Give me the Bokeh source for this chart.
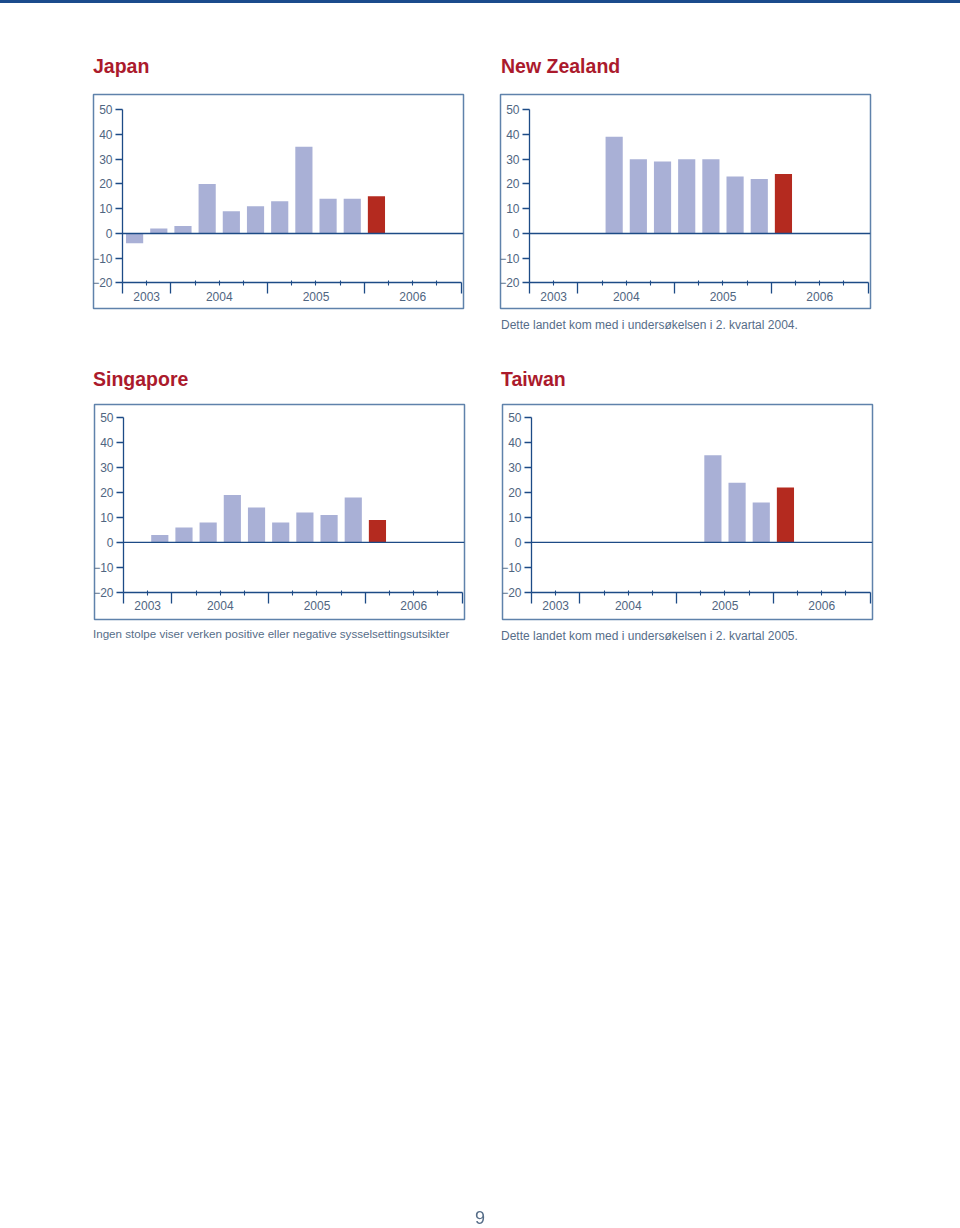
from bokeh.plotting import figure
from bokeh.models import LinearAxis, FixedTicker, Div, Spacer, Range1d, ColumnDataSource
from bokeh.layouts import row, column
from bokeh.embed import file_html
from bokeh.resources import INLINE

# ---------------- data ----------------
QUARTERS = ["2003 K3", "2003 K4",
            "2004 K1", "2004 K2", "2004 K3", "2004 K4",
            "2005 K1", "2005 K2", "2005 K3", "2005 K4",
            "2006 K1", "2006 K2", "2006 K3", "2006 K4"]
YEARS = ["2003", "2004", "2005", "2006"]
YEAR_QUARTERS = [2, 4, 4, 4]
Y_TICKS = [-20, -10, 0, 10, 20, 30, 40, 50]

JAPAN_FIRST = "2003 K3"
JAPAN = [-4, 2, 3, 20, 9, 11, 13, 35, 14, 14, 15]
NZ_FIRST = "2004 K2"
NZ = [39, 30, 29, 30, 30, 23, 22, 24]
SINGAPORE_FIRST = "2003 K4"
SINGAPORE = [3, 6, 8, 19, 14, 8, 12, 11, 18, 9]
TAIWAN_FIRST = "2005 K2"
TAIWAN = [35, 24, 16, 22]

TITLES = ["Japan", "New Zealand", "Singapore", "Taiwan"]
NOTE_NZ = "Dette landet kom med i undersøkelsen i 2. kvartal 2004."
NOTE_SG = "Ingen stolpe viser verken positive eller negative sysselsettingsutsikter"
NOTE_TW = "Dette landet kom med i undersøkelsen i 2. kvartal 2005."

# ---------------- style ----------------
FONT = "Liberation Sans"
CSS_FONT = "'Liberation Sans', Arial, sans-serif"
BAR = "#a9b0d6"
RED_BAR = "#b42a1f"
TITLE_RED = "#ab1a2c"
AXIS = "#1d4b86"
BOX = "#5f82ab"
LABEL = "#4f6581"
NOTE = "#566d88"

# tick positions derived from the year structure
bounds = [0]
for n in YEAR_QUARTERS:
    bounds.append(bounds[-1] + n)
centers = [(a + b) / 2 for a, b in zip(bounds[:-1], bounds[1:])]
minors = [q for q in range(len(QUARTERS) + 1) if q not in bounds]

X_START, X_END = -1.2, 14.1


def panel(values, first, y_range, frame_h):
    start = QUARTERS.index(first)
    xs = [start + i + 0.5 for i in range(len(values))]
    colors = [BAR] * (len(values) - 1) + [RED_BAR]
    src = ColumnDataSource(dict(x=xs, top=values, color=colors))
    p = figure(width=374, height=frame_h + 4,
               x_range=Range1d(X_START, X_END), y_range=Range1d(*y_range),
               x_axis_type=None, y_axis_type=None,
               toolbar_location=None, output_backend="svg",
               min_border_left=2, min_border_right=2,
               min_border_top=2, min_border_bottom=2, margin=0)
    p.background_fill_color = "white"
    p.border_fill_color = "white"
    p.outline_line_color = BOX
    p.outline_line_width = 1.5
    p.vbar(x="x", top="top", bottom=0, width=0.71, fill_color="color",
           line_color=None, source=src)
    p.segment(x0=[0], y0=[0], x1=[X_END], y1=[0], line_color=AXIS, line_width=1.4)

    yax = LinearAxis(fixed_location=0, bounds=(Y_TICKS[0], Y_TICKS[-1]),
                     ticker=FixedTicker(ticks=Y_TICKS),
                     major_tick_in=0, major_tick_out=7,
                     minor_tick_in=0, minor_tick_out=0,
                     axis_line_color=AXIS, axis_line_width=1.3,
                     major_tick_line_color=AXIS, major_tick_line_width=1.3,
                     major_label_text_font=FONT, major_label_text_font_size="12px",
                     major_label_text_color=LABEL, major_label_standoff=3)
    p.add_layout(yax, "left")

    xax = LinearAxis(fixed_location=Y_TICKS[0], bounds=(bounds[0], bounds[-1]),
                     ticker=FixedTicker(ticks=bounds, minor_ticks=minors),
                     major_tick_in=0, major_tick_out=11,
                     minor_tick_in=2, minor_tick_out=3,
                     axis_line_color=AXIS, axis_line_width=1.3,
                     major_tick_line_color=AXIS, major_tick_line_width=1.3,
                     minor_tick_line_color=AXIS, minor_tick_line_width=1.1,
                     major_label_text_color=None)
    p.add_layout(xax, "below")

    lab = LinearAxis(fixed_location=Y_TICKS[0],
                     ticker=FixedTicker(ticks=centers),
                     major_label_overrides={c: y for c, y in zip(centers, YEARS)},
                     axis_line_color=None, major_tick_line_color=None,
                     minor_tick_line_color=None,
                     major_tick_in=0, major_tick_out=0,
                     major_label_text_font=FONT, major_label_text_font_size="12px",
                     major_label_text_color=LABEL, major_label_standoff=9)
    p.add_layout(lab, "below")
    return p


def title_html(text, top, left):
    return (f'<div style="padding:{top}px 0 0 {left}px;font-family:{CSS_FONT};'
            f'font-size:19.5px;font-weight:bold;line-height:20px;color:{TITLE_RED};'
            f'white-space:nowrap">{text}</div>')


def note_html(text, top, left, size=12, extra=""):
    return (f'<div style="padding:{top}px 0 0 {left}px;font-family:{CSS_FONT};'
            f'font-size:{size}px;line-height:12px;color:{NOTE};white-space:nowrap">{text}</div>{extra}')


TOP_Y = (-30.3, 56.1)
BOT_Y = (-31.0, 55.4)

p_jp = panel(JAPAN, JAPAN_FIRST, TOP_Y, 214)
p_nz = panel(NZ, NZ_FIRST, TOP_Y, 214)
p_sg = panel(SINGAPORE, SINGAPORE_FIRST, BOT_Y, 215)
p_tw = panel(TAIWAN, TAIWAN_FIRST, BOT_Y, 215)

top_bar = Div(text="", width=960, height=3, margin=0,
              styles={"position": "fixed", "top": "0px", "left": "0px",
                      "width": "960px", "height": "3px",
                      "background-color": "#1b4b8c", "z-index": "5"})

# the layout starts at the page's top-left corner (0, 0)
row_titles = row(
    Div(text=title_html(TITLES[0], 55.7, 93), width=480, height=92, margin=0),
    Div(text=title_html(TITLES[1], 55.7, 21), width=472, height=92, margin=0),
    spacing=0)

row_top = row(Spacer(width=91, height=218, margin=0), p_jp,
              Spacer(width=33, height=218, margin=0), p_nz, spacing=0)

tw_title = (f'<div style="margin-top:38.7px;padding-left:21px;font-family:{CSS_FONT};'
            f'font-size:19.5px;font-weight:bold;line-height:20px;color:{TITLE_RED};'
            f'white-space:nowrap">{TITLES[3]}</div>')
row_mid = row(
    Div(text=title_html(TITLES[2], 59.2, 93), width=480, height=92, margin=0),
    Div(text=note_html(NOTE_NZ, 8.5, 21, extra=tw_title), width=472, height=92, margin=0),
    spacing=0)

row_bot = row(Spacer(width=92, height=219, margin=0), p_sg,
              Spacer(width=34, height=219, margin=0), p_tw, spacing=0)

row_notes = row(
    Div(text=note_html(NOTE_SG, 7.0, 93, size=11.6), width=480, height=40, margin=0),
    Div(text=note_html(NOTE_TW, 9.0, 21), width=472, height=40, margin=0),
    spacing=0)

page_no = Div(text=f'<div style="font-family:{CSS_FONT};font-size:18px;line-height:18px;color:{NOTE}">9</div>',
              width=20, height=20, margin=0,
              styles={"position": "fixed", "top": "1209px", "left": "475px"})

layout = column(top_bar, row_titles, row_top, row_mid, row_bot, row_notes, page_no,
                spacing=0, margin=0)

open("out.html", "w").write(file_html(layout, INLINE))
